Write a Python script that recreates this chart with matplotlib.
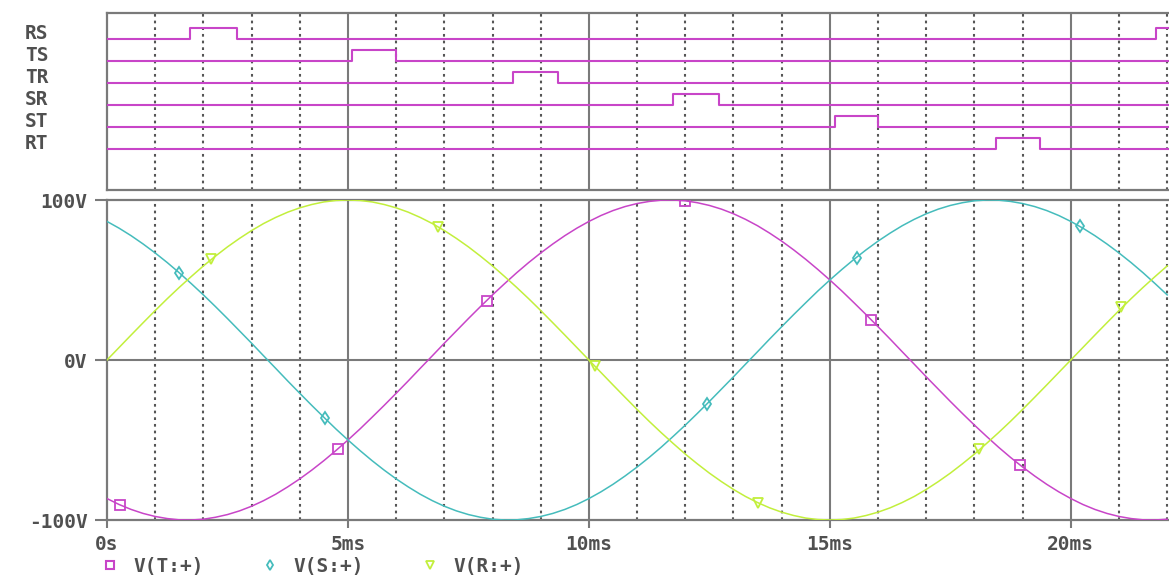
import matplotlib.pyplot as plt
from matplotlib.lines import Line2D
import numpy as np

# time axis of the sampled waveforms (ms), one sample every 0.25 ms
t_ms = np.arange(89) * 0.25

v_r = [0.0, 7.8, 15.6, 23.3, 30.9, 38.3, 45.4, 52.2, 58.8, 64.9, 70.7, 76.0, 80.9, 85.3, 89.1,
       92.4, 95.1, 97.2, 98.8, 99.7,
       100.0, 99.7, 98.8, 97.2, 95.1, 92.4, 89.1, 85.3, 80.9, 76.0, 70.7, 64.9, 58.8, 52.2, 45.4,
       38.3, 30.9, 23.3, 15.6, 7.8,
       0.0, -7.8, -15.6, -23.3, -30.9, -38.3, -45.4, -52.2, -58.8, -64.9, -70.7, -76.0, -80.9, -85.3,
       -89.1, -92.4, -95.1, -97.2, -98.8, -99.7,
       -100.0, -99.7, -98.8, -97.2, -95.1, -92.4, -89.1, -85.3, -80.9, -76.0, -70.7, -64.9, -58.8,
       -52.2, -45.4, -38.3, -30.9, -23.3, -15.6, -7.8,
       0.0, 7.8, 15.6, 23.3, 30.9, 38.3, 45.4, 52.2, 58.8]
v_s = [86.6, 82.4, 77.7, 72.5, 66.9, 60.9, 54.5, 47.7, 40.7, 33.4, 25.9, 18.2, 10.5, 2.6, -5.2,
       -13.1, -20.8, -28.4, -35.8, -43.1,
       -50.0, -56.6, -62.9, -68.8, -74.3, -79.3, -83.9, -87.9, -91.4, -94.3, -96.6, -98.3, -99.5,
       -100.0, -99.9, -99.1, -97.8, -95.9, -93.4, -90.3,
       -86.6, -82.4, -77.7, -72.5, -66.9, -60.9, -54.5, -47.7, -40.7, -33.4, -25.9, -18.2, -10.5,
       -2.6, 5.2, 13.1, 20.8, 28.4, 35.8, 43.1,
       50.0, 56.6, 62.9, 68.8, 74.3, 79.3, 83.9, 87.9, 91.4, 94.3, 96.6, 98.3, 99.5, 100.0, 99.9,
       99.1, 97.8, 95.9, 93.4, 90.3,
       86.6, 82.4, 77.7, 72.5, 66.9, 60.9, 54.5, 47.7, 40.7]
v_t = [-86.6, -90.3, -93.4, -95.9, -97.8, -99.1, -99.9, -100.0, -99.5, -98.3, -96.6, -94.3,
       -91.4, -87.9, -83.9, -79.3, -74.3, -68.8, -62.9, -56.6,
       -50.0, -43.1, -35.8, -28.4, -20.8, -13.1, -5.2, 2.6, 10.5, 18.2, 25.9, 33.4, 40.7, 47.7,
       54.5, 60.9, 66.9, 72.5, 77.7, 82.4,
       86.6, 90.3, 93.4, 95.9, 97.8, 99.1, 99.9, 100.0, 99.5, 98.3, 96.6, 94.3, 91.4, 87.9, 83.9,
       79.3, 74.3, 68.8, 62.9, 56.6,
       50.0, 43.1, 35.8, 28.4, 20.8, 13.1, 5.2, -2.6, -10.5, -18.2, -25.9, -33.4, -40.7, -47.7,
       -54.5, -60.9, -66.9, -72.5, -77.7, -82.4,
       -86.6, -90.3, -93.4, -95.9, -97.8, -99.1, -99.9, -100.0, -99.5]

# marker positions along each trace (ms, V)
mark_t_x = [0.27, 4.79, 7.88, 12.0, 15.85, 18.94]
mark_t_y = [-90.6, -55.5, 37.0, 99.5, 25.0, -65.5]
mark_s_x = [1.5, 4.52, 12.45, 15.56, 20.19]
mark_s_y = [54.5, -36.2, -27.4, 64.0, 83.8]
mark_r_x = [2.16, 6.87, 10.12, 13.5, 18.1, 21.05]
mark_r_y = [62.9, 83.2, -3.8, -89.1, -55.9, 33.0]

# digital gate signals: (rise, fall) in ms
signals = ['RS', 'TS', 'TR', 'SR', 'ST', 'RT']
pulses = [[(1.72, 2.70), (21.76, 22.7)],
          [(5.08, 6.0)],
          [(8.42, 9.36)],
          [(11.74, 12.70)],
          [(15.1, 16.0)],
          [(18.44, 19.36)]]

x_ticks = [0, 5, 10, 15, 20]
x_labels = ['0s', '5ms', '10ms', '15ms', '20ms']
y_ticks = [-100, 0, 100]
y_labels = ['-100V', '0V', '100V']
legend_labels = ['V(T:+)', 'V(S:+)', 'V(R:+)']

MAG = '#c845c8'
CYAN = '#45bcbc'
LIME = '#c2ef3c'
GRID = '#7a7a7a'
DOT = '#555555'
TXT = '#505050'
XMAX = 22.28

W, H = 1169, 579
fig = plt.figure(figsize=(W / 100, H / 100), dpi=100)
left = 107 / W
width = 1.01 - left
ax_top = fig.add_axes([left, 1 - 190 / H, width, 177 / H])
ax = fig.add_axes([left, 1 - 520 / H, width, 320 / H])

font = dict(family='DejaVu Sans Mono', weight='bold', color=TXT, size=14)

for a in (ax_top, ax):
    a.set_xlim(0, XMAX)
    for s in ['top', 'bottom', 'left']:
        a.spines[s].set_color(GRID)
        a.spines[s].set_linewidth(1.6)
    a.spines['right'].set_visible(False)
    for x in range(1, 23):
        if x % 5 == 0:
            a.axvline(x, color=GRID, lw=1.5, zorder=1)
        else:
            a.axvline(x, color=DOT, lw=1.5, ls=(0, (1.3, 1.9)), zorder=1)

# top panel: gate signals
ax_top.set_ylim(-6.86, 1.18)
ax_top.set_xticks([])
ax_top.set_yticks([])
for i, name in enumerate(signals):
    low = -i
    high = low + 0.5
    xs = [0]
    ys = [low]
    for r, f in pulses[i]:
        xs += [r, r, f, f]
        ys += [low, high, high, low]
    xs.append(XMAX)
    ys.append(low)
    ax_top.plot(xs, ys, color=MAG, lw=1.5, zorder=3)
    ax_top.text(-0.0765, low + 0.27, name, transform=ax_top.get_yaxis_transform(),
                ha='left', va='center', fontdict=font)

# bottom panel: phase voltages
ax.set_ylim(-100, 100)
ax.axhline(0, color=GRID, lw=1.5, zorder=1)
ax.plot(t_ms, v_t, color=MAG, lw=1.1, zorder=3)
ax.plot(t_ms, v_s, color=CYAN, lw=1.1, zorder=3)
ax.plot(t_ms, v_r, color=LIME, lw=1.1, zorder=3)
mk = dict(ls='none', mfc='none', markersize=6.5, mew=1.3, zorder=4)
ax.plot(mark_t_x, mark_t_y, marker='s', mec=MAG, **mk)
ax.plot(mark_s_x, mark_s_y, marker='d', mec=CYAN, **mk)
ax.plot(mark_r_x, mark_r_y, marker='v', mec=LIME, **mk)

ax.set_xticks(x_ticks)
ax.set_xticklabels(x_labels, fontdict=font)
ax.set_yticks(y_ticks)
ax.set_yticklabels(y_labels, fontdict=font)
ax.tick_params(axis='x', length=6, width=1.5, color=GRID, pad=5)
ax.tick_params(axis='y', length=9, width=1.5, color=GRID, pad=5)

handles = [Line2D([], [], ls='none', marker='s', mfc='none', mec=MAG, markersize=5.5, mew=1.5),
           Line2D([], [], ls='none', marker='d', mfc='none', mec=CYAN, markersize=5.5, mew=1.3),
           Line2D([], [], ls='none', marker='v', mfc='none', mec=LIME, markersize=5.5, mew=1.3)]
leg = ax.legend(handles, legend_labels, ncol=3, loc='upper left', frameon=False,
                bbox_to_anchor=(-0.004, -0.115), handlelength=0.8, handletextpad=0.8,
                columnspacing=3.0, borderpad=0, borderaxespad=0,
                prop=dict(family='DejaVu Sans Mono', weight='bold', size=14))
for txt in leg.get_texts():
    txt.set_color(TXT)

fig.savefig('out.png', dpi=100)
